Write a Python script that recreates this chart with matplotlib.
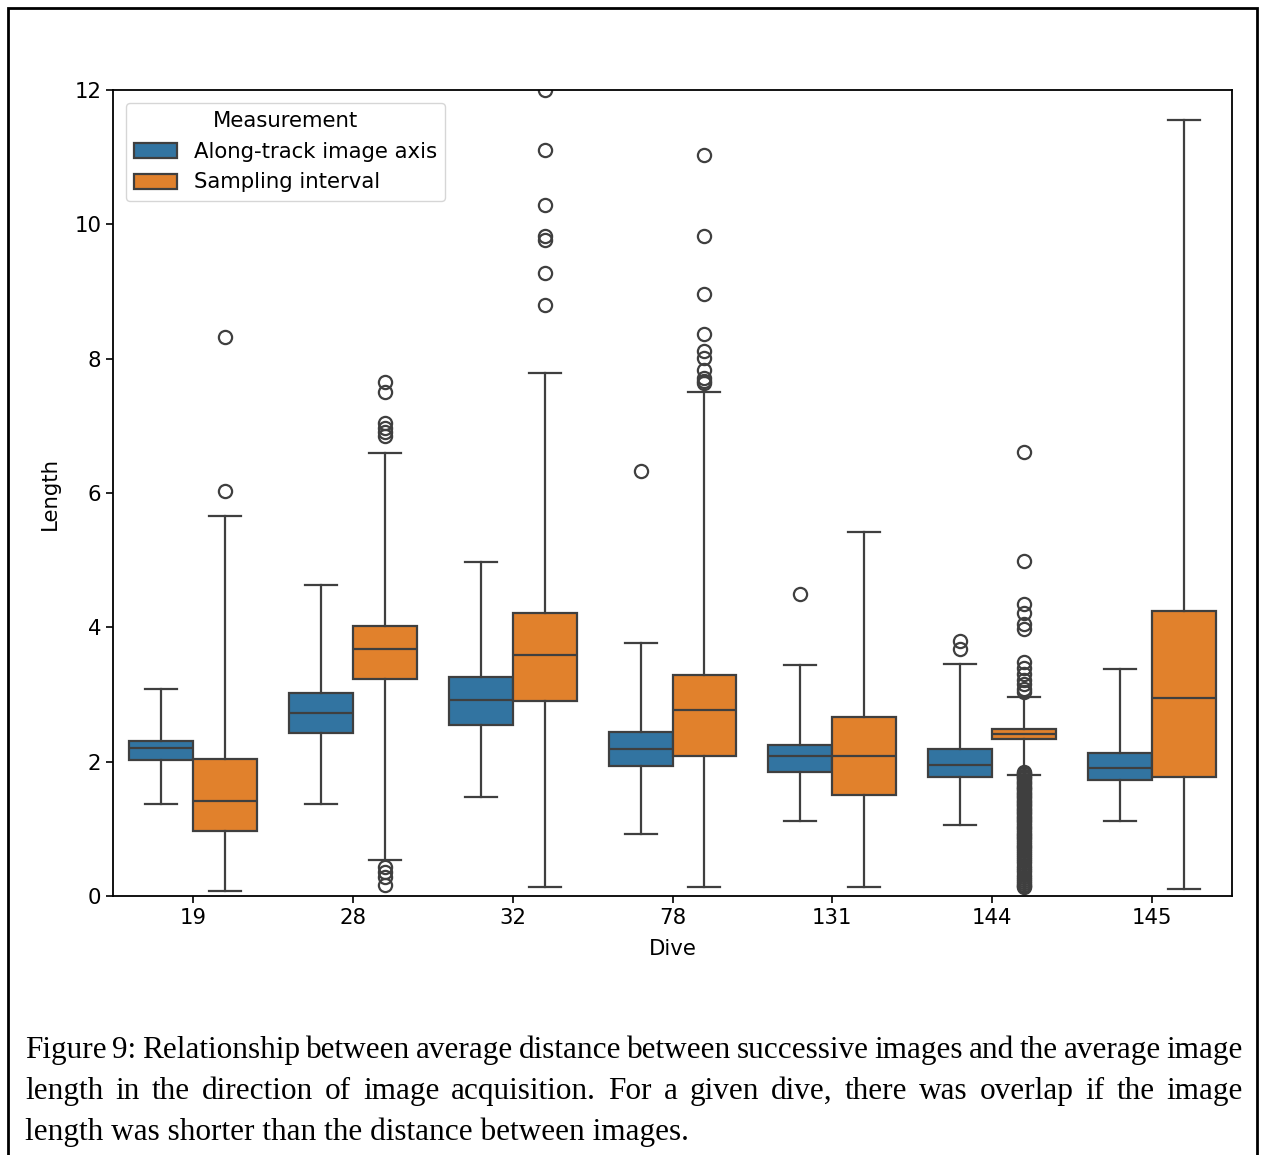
import matplotlib.pyplot as plt
from matplotlib.patches import Patch, Rectangle

# values
dives = ["19", "28", "32", "78", "131", "144", "145"]
measurements = ["Along-track image axis", "Sampling interval"]

along_med = [2.20, 2.72, 2.92, 2.19, 2.08, 1.95, 1.91]
along_q1 = [2.02, 2.43, 2.55, 1.94, 1.85, 1.77, 1.73]
along_q3 = [2.31, 3.02, 3.26, 2.44, 2.25, 2.19, 2.13]
along_lo = [1.37, 1.37, 1.47, 0.92, 1.12, 1.06, 1.12]
along_hi = [3.08, 4.63, 4.97, 3.77, 3.44, 3.45, 3.38]
along_fliers = [[], [], [], [6.33], [4.50], [3.80, 3.68], []]

interval_med = [1.41, 3.68, 3.59, 2.77, 2.08, 2.41, 2.95]
interval_q1 = [0.97, 3.23, 2.90, 2.08, 1.50, 2.34, 1.77]
interval_q3 = [2.04, 4.02, 4.21, 3.29, 2.66, 2.49, 4.24]
interval_lo = [0.07, 0.54, 0.13, 0.13, 0.13, 1.80, 0.10]
interval_hi = [5.66, 6.60, 7.79, 7.50, 5.42, 2.96, 11.55]
interval_fliers = [
    [6.03, 8.32],
    [7.65, 7.50, 7.04, 6.97, 6.91, 6.85, 0.43, 0.36, 0.28, 0.16],
    [12.0, 11.1, 10.29, 9.83, 9.77, 9.27, 8.80],
    [11.03, 9.83, 8.96, 8.37, 8.11, 8.01, 7.83, 7.71, 7.67, 7.64],
    [],
    [6.61, 4.99, 4.35, 4.21, 4.05, 3.97, 3.48, 3.40, 3.31, 3.22, 3.15, 3.08, 3.03,
     1.85, 1.83, 1.81, 1.79, 1.77, 1.75, 1.73, 1.70, 1.68, 1.66, 1.63, 1.61,
     1.59, 1.57, 1.54, 1.52, 1.49, 1.47, 1.45, 1.42, 1.40, 1.37, 1.35, 1.33,
     1.30, 1.28, 1.25, 1.23, 1.21, 1.18, 1.16, 1.13, 1.11, 1.08, 1.06, 1.03,
     1.01, 0.99, 0.96, 0.93, 0.91, 0.88, 0.86, 0.83, 0.81, 0.78, 0.75, 0.73,
     0.70, 0.67, 0.64, 0.61, 0.58, 0.55, 0.52, 0.49, 0.45, 0.42, 0.38, 0.35,
     0.31, 0.28, 0.25, 0.22, 0.19, 0.17, 0.15, 0.14],
    [],
]

colors = ["#3274a1", "#e1812c"]
line_color = "#3f3f3f"

caption_lines = [
    "Figure 9: Relationship between average distance between successive images and the average image",
    "length in the direction of image acquisition. For a given dive, there was overlap if the image",
    "length was shorter than the distance between images.",
]


def make_stats(med, q1, q3, lo, hi, fliers):
    return [
        {"med": med[i], "q1": q1[i], "q3": q3[i], "whislo": lo[i], "whishi": hi[i],
         "fliers": fliers[i]}
        for i in range(len(med))
    ]


W, H = 1265, 1155
FS = 15.3
fig = plt.figure(figsize=(W / 100, H / 100), dpi=100)
ax = fig.add_axes([113 / W, 1 - 896 / H, (1232 - 113) / W, (896 - 90) / H])

groups = [
    make_stats(along_med, along_q1, along_q3, along_lo, along_hi, along_fliers),
    make_stats(interval_med, interval_q1, interval_q3, interval_lo, interval_hi, interval_fliers),
]
offsets = [-0.2, 0.2]
for stats, off, col in zip(groups, offsets, colors):
    ax.bxp(
        stats,
        positions=[i + off for i in range(len(dives))],
        widths=0.4,
        patch_artist=True,
        boxprops=dict(facecolor=col, edgecolor=line_color, linewidth=1.6),
        medianprops=dict(color=line_color, linewidth=1.6),
        whiskerprops=dict(color=line_color, linewidth=1.6),
        capprops=dict(color=line_color, linewidth=1.6),
        capwidths=0.2,
        flierprops=dict(marker="o", markersize=9.5, markerfacecolor="none",
                        markeredgecolor=line_color, markeredgewidth=1.6),
        manage_ticks=False,
    )

ax.set_xlim(-0.5, len(dives) - 0.5)
ax.set_ylim(0, 12)
ax.set_xticks(range(len(dives)))
ax.set_xticklabels(dives)
ax.set_yticks(range(0, 13, 2))
ax.tick_params(labelsize=FS, length=5, width=1.2)
for s in ax.spines.values():
    s.set_linewidth(1.3)
ax.set_xlabel("Dive", fontsize=FS, labelpad=8)
ax.set_ylabel("Length", fontsize=FS, labelpad=10)

handles = [Patch(facecolor=c, edgecolor=line_color, linewidth=1.6) for c in colors]
ax.legend(handles, measurements, title="Measurement", loc="upper left",
          fontsize=FS, title_fontsize=FS, handlelength=2.0, borderaxespad=0.6)

# page frame
fig.patches.append(Rectangle((8 / W, -0.05), (1257 - 8) / W, 1.05 - 8 / H,
                             transform=fig.transFigure, fill=False,
                             edgecolor="black", linewidth=2.0))

# justified caption
renderer = fig.canvas.get_renderer()
x0, x1 = 25, 1243
baselines = [1058, 1099, 1140]
cap_font = dict(fontsize=22.5, family="Liberation Serif", va="baseline", ha="left")
for n, (line, base) in enumerate(zip(caption_lines, baselines)):
    y = 1 - base / H
    if n == len(caption_lines) - 1:
        fig.text(x0 / W, y, line, **cap_font)
        continue
    words = line.split(" ")
    texts = [fig.text(0, y, w, **cap_font) for w in words]
    widths = [t.get_window_extent(renderer).width for t in texts]
    gap = (x1 - x0 - sum(widths)) / (len(words) - 1)
    x = x0
    for t, w in zip(texts, widths):
        t.set_x(x / W)
        x += w + gap

fig.savefig("out.png", dpi=100)
